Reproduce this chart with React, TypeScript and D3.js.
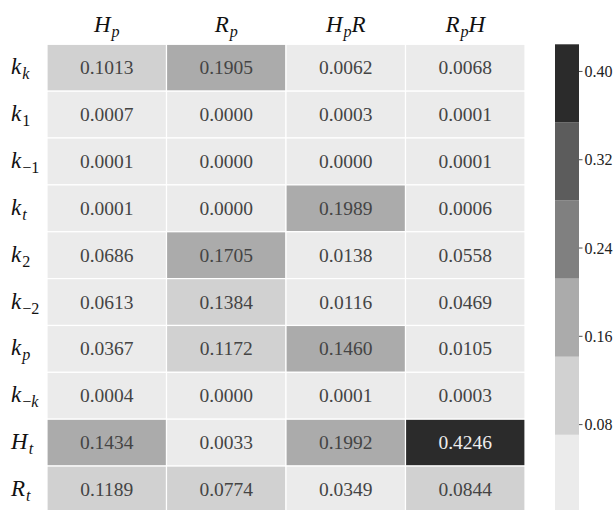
import React from 'react';
import * as d3 from 'd3';

// row / column labels ("_" marks a subscript, braces group it)
const rowLabels = ['k_k', 'k_1', 'k_{-1}', 'k_t', 'k_2', 'k_{-2}', 'k_p', 'k_{-k}', 'H_t', 'R_t'];
const colLabels = ['H_p', 'R_p', 'H_pR', 'R_pH'];

// one array per column, top row first
const hp = [0.1013, 0.0007, 0.0001, 0.0001, 0.0686, 0.0613, 0.0367, 0.0004, 0.1434, 0.1189];
const rp = [0.1905, 0.0, 0.0, 0.0, 0.1705, 0.1384, 0.1172, 0.0, 0.0033, 0.0774];
const hpr = [0.0062, 0.0003, 0.0, 0.1989, 0.0138, 0.0116, 0.146, 0.0001, 0.1992, 0.0349];
const rph = [0.0068, 0.0001, 0.0001, 0.0006, 0.0558, 0.0469, 0.0105, 0.0003, 0.4246, 0.0844];
const columns = [hp, rp, hpr, rph];

const colorbarTicks = [0.08, 0.16, 0.24, 0.32, 0.4];
const greys = ['#ebebeb', '#d1d1d1', '#ababab', '#808080', '#5c5c5c', '#2b2b2b'];

const W = 615;
const H = 510;
const margin = { top: 44.3, left: 47 };
const FONT = 'Liberation Serif';

// split "H_pR" into [{t:'H',sub:false},{t:'p',sub:true},{t:'R',sub:false}]
function parseLabel(s: string) {
  const parts: { t: string; sub: boolean }[] = [];
  let i = 0;
  while (i < s.length) {
    if (s[i] === '_') {
      i++;
      if (s[i] === '{') {
        const end = s.indexOf('}', i);
        parts.push({ t: s.slice(i + 1, end), sub: true });
        i = end + 1;
      } else {
        parts.push({ t: s[i], sub: true });
        i++;
      }
    } else {
      parts.push({ t: s[i], sub: false });
      i++;
    }
  }
  return parts;
}

// math-style label: letters italic, digits/minus upright
const MathLabel = ({ label, x, y, anchor, size }: any) => {
  const parts = parseLabel(label);
  const nodes: any[] = [];
  let shifted = false;
  parts.forEach((p, i) => {
    const fs = p.sub ? size * 0.7 : size;
    let dy = 0;
    if (p.sub && !shifted) {
      dy = size * 0.22;
      shifted = true;
    } else if (!p.sub && shifted) {
      dy = -size * 0.22;
      shifted = false;
    }
    // split sub text into runs of italic / upright chars
    const runs = p.t.replace('-', '\u2212').match(/[A-Za-z]+|[^A-Za-z]+/g) || [];
    runs.forEach((r, j) => {
      nodes.push(
        <tspan
          key={`${i}-${j}`}
          dy={j === 0 ? dy : 0}
          fontSize={fs}
          fontStyle={/[A-Za-z]/.test(r) ? 'italic' : 'normal'}
          dx={p.sub && j === 0 ? 1 : 0}>
          {r}
        </tspan>
      );
    });
  });
  return (
    <text x={x} y={y} textAnchor={anchor} style={{ fontFamily: FONT }} fill='#111'>
      {nodes}
    </text>
  );
};

const App = () => {
  const innerW = 525 - margin.left;
  const rowH = 46.86;
  const innerH = rowH * rowLabels.length;

  const x = d3.scaleBand<number>().domain(d3.range(colLabels.length)).range([margin.left, margin.left + innerW]);
  const y = d3.scaleBand<number>().domain(d3.range(rowLabels.length)).range([margin.top, margin.top + innerH]);

  const vmax = d3.max(columns, (c) => d3.max(c)) as number;
  const color = d3.scaleQuantize<string>().domain([0, vmax]).range(greys);

  // colorbar
  const cbX = 555;
  const cbW = 24;
  const cbY = d3.scaleLinear().domain([0, vmax]).range([margin.top + innerH, margin.top]);
  const bins = greys.map((g) => {
    const [a, b] = color.invertExtent(g);
    return { g, a, b };
  });

  return (
    <svg
      width={W}
      height={H}
      style={{ position: 'absolute', left: 0, top: 0, background: '#fff' }}>
      {/* cells */}
      {columns.map((col, ci) =>
        col.map((v, ri) => (
          <g key={`${ci}-${ri}`}>
            <rect
              x={x(ci)}
              y={y(ri)}
              width={x.bandwidth()}
              height={y.bandwidth()}
              fill={color(v)}
              stroke='#fff'
              strokeWidth={1.2}
            />
            <text
              x={(x(ci) as number) + x.bandwidth() / 2}
              y={(y(ri) as number) + y.bandwidth() / 2 + 6.5}
              textAnchor='middle'
              style={{ fontFamily: FONT }}
              fontSize={19.5}
              fill={v > vmax * 0.6 ? '#eeeeee' : '#444444'}>
              {v.toFixed(4)}
            </text>
          </g>
        ))
      )}

      {/* column headers */}
      {colLabels.map((l, ci) => (
        <MathLabel
          key={l}
          label={l}
          x={(x(ci) as number) + x.bandwidth() / 2}
          y={31.5}
          anchor='middle'
          size={23}
        />
      ))}

      {/* row labels */}
      {rowLabels.map((l, ri) => (
        <MathLabel
          key={l}
          label={l}
          x={11}
          y={(y(ri) as number) + y.bandwidth() / 2 + 6.5}
          anchor='start'
          size={23}
        />
      ))}

      {/* colorbar */}
      {bins.map((b) => (
        <rect
          key={b.g}
          x={cbX}
          y={cbY(b.b)}
          width={cbW}
          height={cbY(b.a) - cbY(b.b)}
          fill={b.g}
        />
      ))}
      {colorbarTicks.map((t) => (
        <g key={t}>
          <line
            x1={cbX + cbW}
            x2={cbX + cbW + 3.5}
            y1={cbY(t)}
            y2={cbY(t)}
            stroke='#222'
            strokeWidth={0.8}
          />
          <text
            x={cbX + cbW + 5.5}
            y={cbY(t) + 5.5}
            style={{ fontFamily: FONT }}
            fontSize={16}
            fill='#222'>
            {t.toFixed(2)}
          </text>
        </g>
      ))}
    </svg>
  );
};

export default App;
